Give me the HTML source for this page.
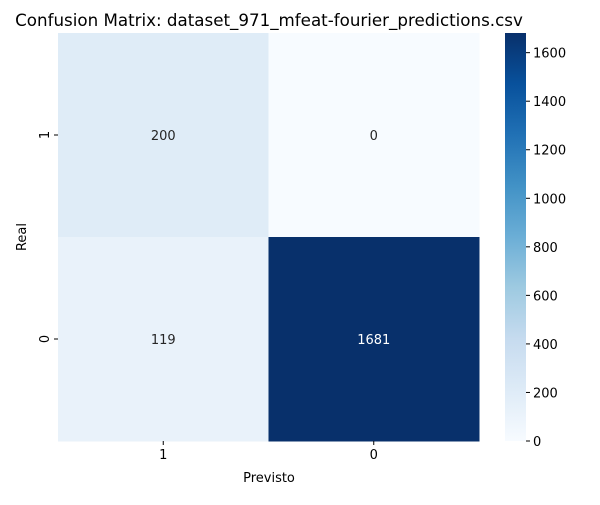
<!DOCTYPE html>
<html><head><meta charset="utf-8"><style>
body{margin:0;background:#fff;font-family:"Liberation Sans","DejaVu Sans",sans-serif}
svg text{font-family:"DejaVu Sans","Liberation Sans",sans-serif}
</style></head><body>
<svg id="chart" width="600" height="500">
<defs><linearGradient id="cbgrad" x1="0" y1="1" x2="0" y2="0"></linearGradient></defs>
<text x="269" y="26" font-size="16.7" text-anchor="middle">Confusion Matrix: dataset_971_mfeat-fourier_predictions.csv</text>
<g id="cells"></g>
<g id="axes"></g>
<rect x="505" y="33" width="21" height="408" fill="url(#cbgrad)"/>
<g id="cbticks"></g>
<text x="269" y="482" font-size="13" text-anchor="middle">Previsto</text>
<text transform="translate(26,237) rotate(-90)" font-size="13" text-anchor="middle">Real</text>
</svg>
<script>
const xLabels=["1","0"];
const yLabels=["1","0"];
const matrix=[[200,0],[119,1681]];
const cbTicks=[0,200,400,600,800,1000,1200,1400,1600];
const NS="http://www.w3.org/2000/svg";
const stops=["#f7fbff","#deebf7","#c6dbef","#9ecae1","#6baed6","#4292c6","#2171b5","#08519c","#08306b"];
function hex(c){return [1,3,5].map(i=>parseInt(c.substr(i,2),16));}
function cmap(t){t=Math.max(0,Math.min(1,t));const p=t*(stops.length-1);const i=Math.min(stops.length-2,Math.floor(p));const f=p-i;const a=hex(stops[i]),b=hex(stops[i+1]);return "rgb("+a.map((v,k)=>Math.round(v+(b[k]-v)*f)).join(",")+")";}
const vals=matrix.flat();const vmin=Math.min(...vals),vmax=Math.max(...vals);
const X0=58,X1=479,Y0=33,Y1=441;
const cw=(X1-X0)/xLabels.length,ch=(Y1-Y0)/yLabels.length;
const g=document.getElementById("cells"),ax=document.getElementById("axes");
function mk(tag,attrs,parent){const e=document.createElementNS(NS,tag);for(const k in attrs)e.setAttribute(k,attrs[k]);parent.appendChild(e);return e;}
matrix.forEach((row,r)=>row.forEach((v,c)=>{
 const t=(v-vmin)/(vmax-vmin);
 const rect=mk("rect",{x:X0+c*cw,y:Y0+r*ch,width:cw+0.5,height:ch+0.5,fill:cmap(t)},g);
 
 
 const tx=mk("text",{x:X0+(c+0.5)*cw,y:Y0+(r+0.5)*ch+5,"font-size":13,"text-anchor":"middle",fill:t>0.5?"#fff":"#262626"},g);
 tx.textContent=v;
 
 
}));
xLabels.forEach((l,i)=>{const x=X0+(i+0.5)*cw;
 mk("line",{x1:x,x2:x,y1:Y1,y2:Y1+4,stroke:"#000"},ax);
 const t=mk("text",{x:x,y:Y1+18,"font-size":13,"text-anchor":"middle"},ax);t.textContent=l;
 
 });
yLabels.forEach((l,i)=>{const y=Y0+(i+0.5)*ch;
 mk("line",{x1:X0-4,x2:X0,y1:y,y2:y,stroke:"#000"},ax);
 const t=mk("text",{transform:"translate("+(X0-9)+","+y+") rotate(-90)","font-size":13,"text-anchor":"middle"},ax);t.textContent=l;
 
 });
const gr=document.getElementById("cbgrad");
stops.forEach((s,i)=>mk("stop",{offset:i/(stops.length-1),"stop-color":s},gr));
const cb=document.getElementById("cbticks");
cbTicks.forEach(v=>{const y=Y1-(v-vmin)/(vmax-vmin)*(Y1-Y0);
 mk("line",{x1:526,x2:530,y1:y,y2:y,stroke:"#000"},cb);
 const t=mk("text",{x:533,y:y+5,"font-size":13},cb);t.textContent=v;
 
 });
</script>
</body></html>
